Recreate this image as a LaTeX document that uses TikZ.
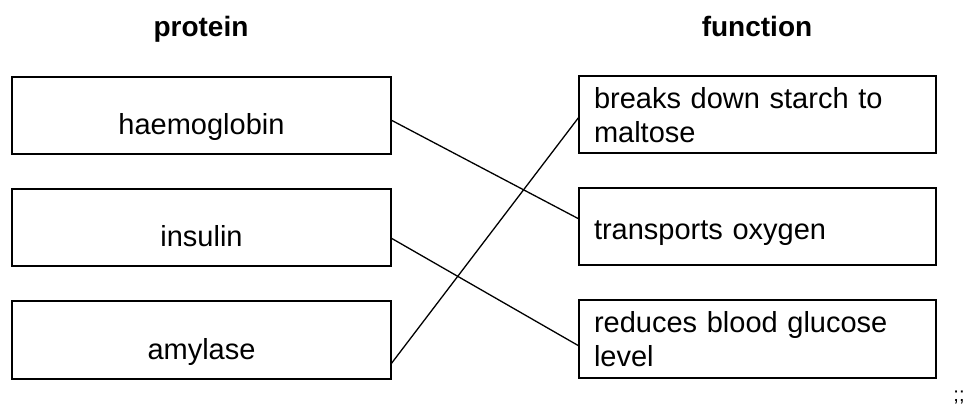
\documentclass[tikz,border=0pt]{standalone}
\usepackage{fontspec}
\setmainfont{Liberation Sans}
\usetikzlibrary{calc, positioning}
\tikzset{%
    link/.style={%
        line width=1.3pt,
    },
    protbox/.style={%
        rectangle,
        draw=black, line width=2pt,
        minimum width=379pt,
        minimum height=77pt,
        font=\fontsize{29}{33.6}\selectfont,
        text height=40pt, text depth=2pt,
        text centered,
    },
    funcbox/.style={%
        rectangle,
        draw=black, line width=2pt,
        minimum width=357pt,
        minimum height=77pt,
        inner xsep=15pt,
        text width=327pt,
        font=\fontsize{29}{33.6}\selectfont,
        align=left,
    },
    heading/.style={%
        font=\fontsize{28}{33.6}\selectfont\bfseries,
        anchor=base,
    },
}

\begin{document}
\begin{tikzpicture}[x=1pt, y=-1pt, node distance=35pt, outer sep=0pt]
	\useasboundingbox (0,0) rectangle (968,411);
	\coordinate (left_side) at (201.5, 116);
	\coordinate (right_side) at (757.5, 115);

	\node [heading] at (201, 37) (head_prot) {protein};
	\node [heading] at (757, 37) (head_func) {function};

	\node [protbox] at (left_side) (prot_hb) {haemoglobin};
	\node [protbox, below=of prot_hb] (prot_ins) {insulin};
	\node [protbox, below=of prot_ins] (prot_amy) {amylase};

	\node [funcbox] at (right_side) (func1) {breaks down starch to\\maltose};
	\node [funcbox, below=of func1, text height=28pt, text depth=2pt] (func2) {transports oxygen};
	\node [funcbox, below=of func2] (func3) {reduces blood glucose\\level};

	\node [font=\fontsize{20}{22}\selectfont, anchor=base] at (959, 401) (marks) {;;};

	\draw[link] ($(prot_hb.east) + (0, 4)$) -- ($(func2.west) + (0, -8)$);
	\draw[link] ($(prot_ins.east) + (0, 10)$) -- ($(func3.west) + (0, 7)$);
	\draw[link] ($(prot_amy.east) + (0, 24)$) -- ($(func1.west) + (0, 2)$);
\end{tikzpicture}
\end{document}
